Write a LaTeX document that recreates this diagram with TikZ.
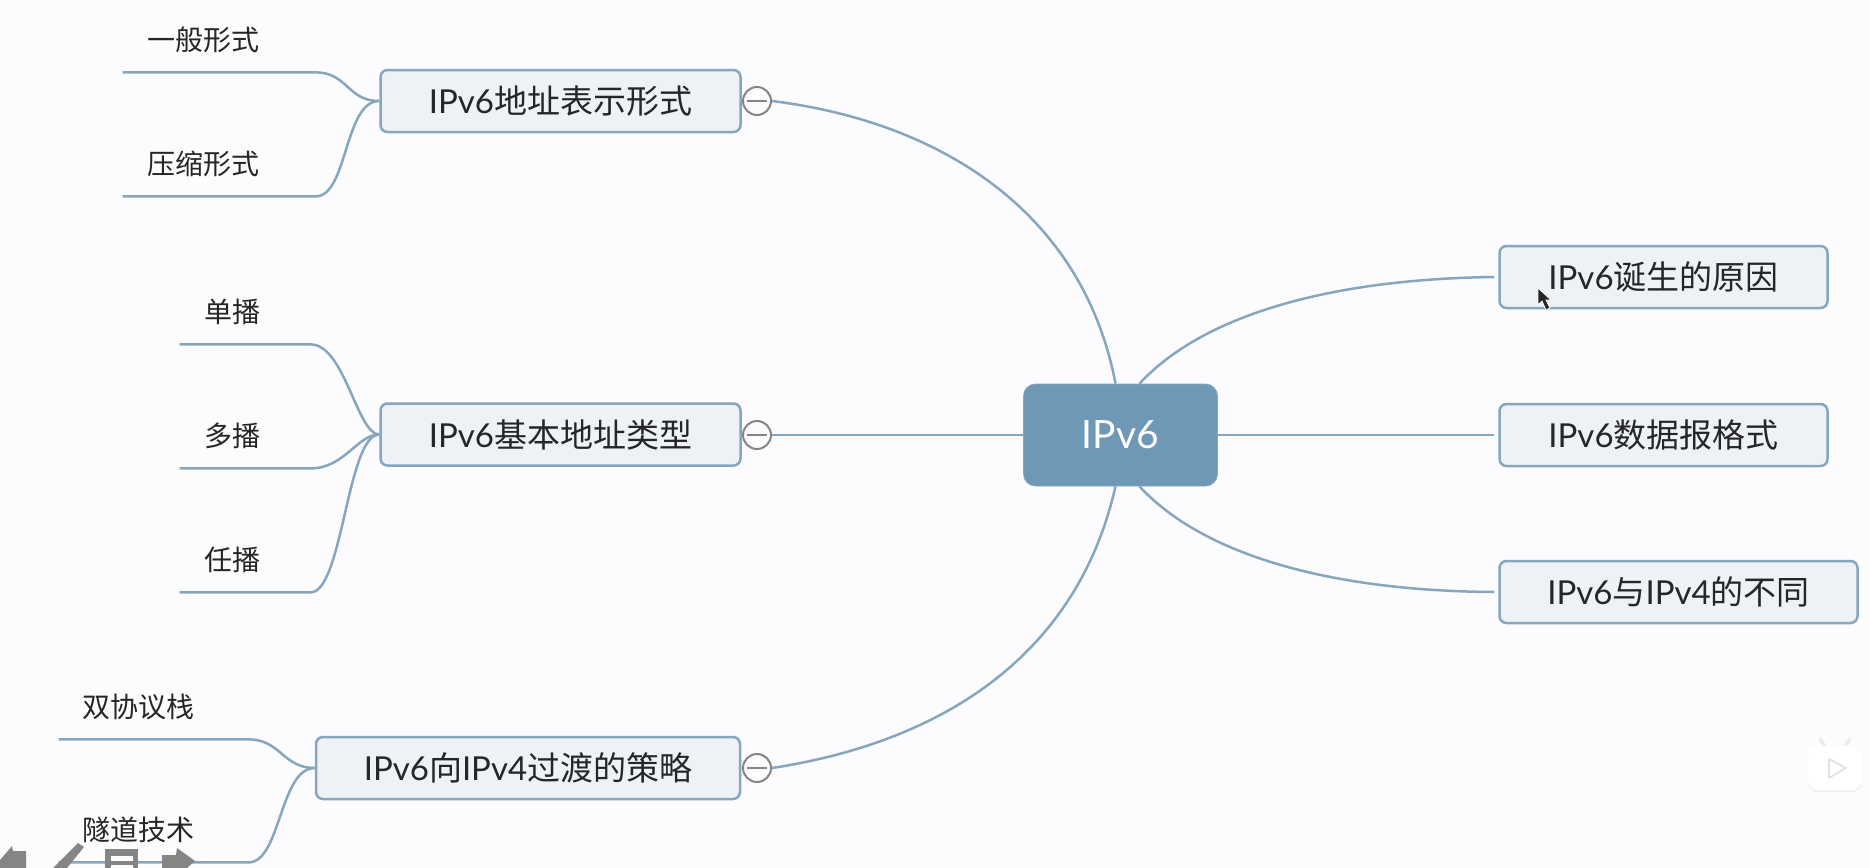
\documentclass[tikz,border=0pt]{standalone}
\usepackage{fontspec}
\setmainfont{Lato}
\newfontfamily\cjk{Noto Sans CJK SC}
\usepackage{xcolor}
\usetikzlibrary{positioning}
\definecolor{linec}{HTML}{86A6C0}
\definecolor{boxfill}{HTML}{EEF2F7}
\definecolor{rootfill}{HTML}{6F97B6}
\definecolor{textc}{HTML}{262626}
\definecolor{paper}{HTML}{FCFCFE}
\definecolor{iconc}{HTML}{858585}
\newcommand{\zh}[1]{{\cjk #1}}
\tikzset{
    topic/.style={draw=linec,line width=1.25pt,fill=boxfill,rounded corners=3.5pt,inner sep=0pt,
                  minimum height=31pt,text=textc,font=\fontsize{16.5pt}{18pt}\selectfont},
    rootnode/.style={fill=rootfill,draw=rootfill!85!white,rounded corners=6pt,inner sep=0pt,
                  minimum width=97pt,minimum height=51pt,text=white,font=\fontsize{19.5pt}{21pt}\selectfont},
    leaf/.style={inner sep=0pt,minimum height=32pt,text=textc,font=\fontsize{14pt}{16pt}\selectfont},
    toggle/.style={circle,draw=iconc,line width=1pt,fill=paper,inner sep=0pt,minimum size=14pt,
                  path picture={\draw[iconc,line width=.8pt] ([xshift=2pt]path picture bounding box.west) -- ([xshift=-2pt]path picture bounding box.east);}},
    link/.style={draw=linec,line width=1.25pt},
}
\begin{document}
\begin{tikzpicture}[x=.5pt,y=-.5pt]
    \fill[paper] (0,0) rectangle (1870,868);
    \useasboundingbox (0,0) rectangle (1870,868);

    \node[rootnode] (root) at (1120.5,435) {IPv6};

    \node[topic,minimum width=180pt] (boxa) at (560.5,101) {IPv6\zh{地址表示形式}};
    \node[topic,minimum width=180pt] (boxb) at (560.5,434.5) {IPv6\zh{基本地址类型}};
    \node[topic,minimum width=212pt] (boxc) at (528,768) {IPv6\zh{向}IPv4\zh{过渡的策略}};
    \node[topic,minimum width=164pt] (boxd) at (1663.5,277) {IPv6\zh{诞生的原因}};
    \node[topic,minimum width=164pt] (boxe) at (1663.5,435) {IPv6\zh{数据报格式}};
    \node[topic,minimum width=179pt] (boxf) at (1678.5,592) {IPv6\zh{与}IPv4\zh{的不同}};

    \node[toggle] (toga) at (757,101) {};
    \node[toggle] (togb) at (757,435) {};
    \node[toggle] (togc) at (757,768) {};

    \node[leaf,minimum width=80pt] (leafa) at (203,40) {\zh{一般形式}};
    \node[leaf,minimum width=80pt] (leafb) at (203,164) {\zh{压缩形式}};
    \node[leaf,minimum width=52pt] (leafc) at (232,312) {\zh{单播}};
    \node[leaf,minimum width=52pt] (leafd) at (232,436) {\zh{多播}};
    \node[leaf,minimum width=52pt] (leafe) at (232,560) {\zh{任播}};
    \node[leaf,minimum width=80pt] (leaff) at (139,707) {\zh{双协议栈}};
    \node[leaf,minimum width=80pt] (leafg) at (139,830) {\zh{隧道技术}};

    \draw[link] (toga.east) .. controls (942,122) and (1083,213) .. ([xshift=-2.5pt]root.north);
    \draw[link] (togb.east) -- (root.west);
    \draw[link] (togc.east) .. controls (942,742) and (1077,656) .. ([xshift=-2.5pt]root.south);
    \draw[link] ([xshift=9.5pt]root.north) .. controls (1205,313) and (1335,279) .. ([xshift=-2pt]boxd.west);
    \draw[link] (root.east) -- ([xshift=-2pt]boxe.west);
    \draw[link] ([xshift=9.5pt]root.south) .. controls (1205,557) and (1335,591) .. ([xshift=-2pt]boxf.west);

    \draw[link] (leafa.south west) -- ++(193,0) .. controls +(32,0) and +(-32,0) .. (boxa.west);
    \draw[link] (leafb.south west) -- ++(193,0) .. controls +(32,0) and +(-35,0) .. (boxa.west);
    \draw[link] (leafc.south west) -- ++(131,0) .. controls +(34,0) and +(-22,0) .. (boxb.west);
    \draw[link] (leafd.south west) -- ++(131,0) .. controls +(34,0) and +(-22,0) .. (boxb.west);
    \draw[link] (leafe.south west) -- ++(131,0) .. controls +(32,0) and +(-32,0) .. (boxb.west);
    \draw[link] (leaff.south west) -- ++(190,0) .. controls +(32,0) and +(-32,0) .. (boxc.west);
    \draw[link] (leafg.south west) -- ++(190,0) .. controls +(32,0) and +(-35,0) .. (boxc.west);

    % player buttons
    \fill[iconc] (0,860) -- (12,846) -- (13,851) -- (26,851) -- (26,868) -- (0,868) -- cycle;
    \fill[iconc] (53,868) -- (78,843) -- (84,847) -- (67,868) -- cycle;
    \fill[iconc] (105,849) rectangle (138,868);
    \fill[paper] (111,856) rectangle (133,861);
    \fill[paper] (111,865) rectangle (133,868);
    \fill[iconc] (162,855) -- (176,855) -- (177,848) -- (195,861) -- (187,868) -- (162,868) -- cycle;

    % mouse pointer
    \filldraw[fill=black!85,draw=white,line width=.4pt] (1538,288) -- (1538,305) -- (1542,301) -- (1546,310) -- (1550,308) -- (1546,300) -- (1551,300) -- cycle;

    % video mark
    \draw[white!92!black,line width=1.5pt,line cap=round] (1825,746) -- (1820,739) (1845,746) -- (1850,739);
    \fill[black!6,rounded corners=5pt] (1808,748) rectangle (1862,792);
    \fill[white,rounded corners=5pt] (1808,746) rectangle (1862,790);
    \draw[black!12,line width=.8pt,line join=round] (1829,759) -- (1846,768) -- (1829,778) -- cycle;
\end{tikzpicture}
\end{document}
